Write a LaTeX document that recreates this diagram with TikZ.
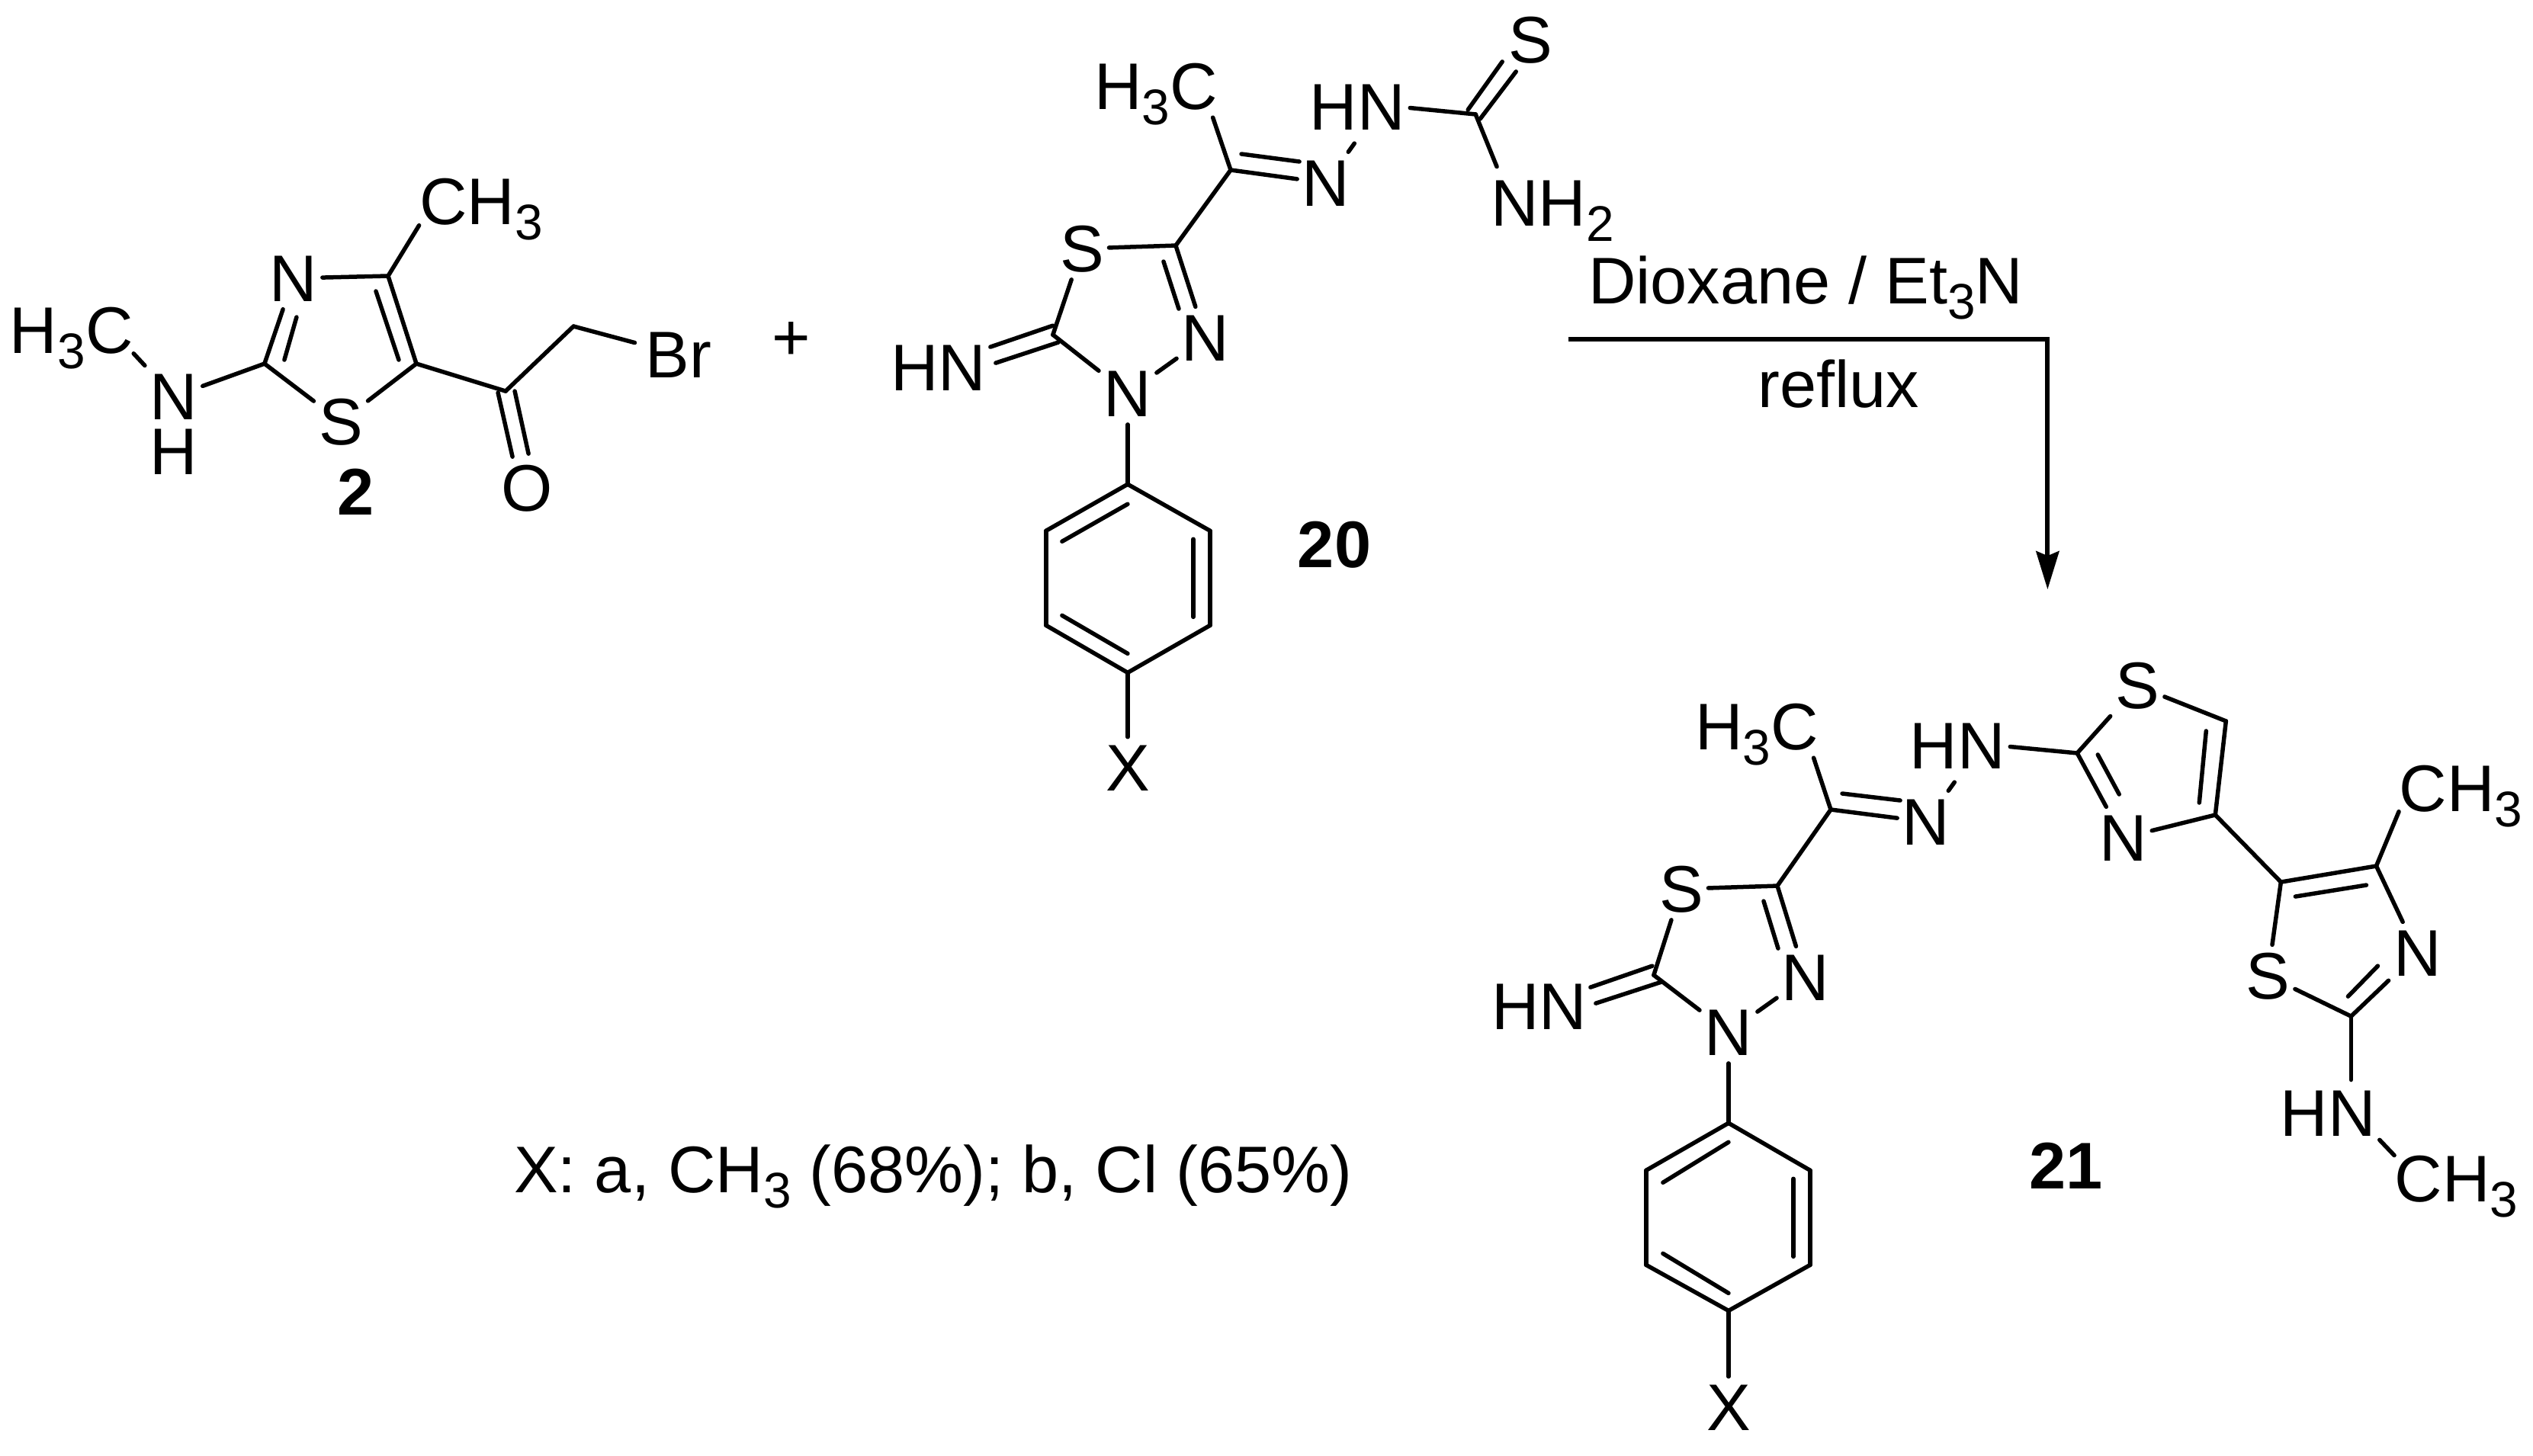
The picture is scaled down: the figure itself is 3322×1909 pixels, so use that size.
\documentclass[tikz,border=0pt]{standalone}
\usepackage{fontspec}
\setmainfont{Liberation Sans}
\usetikzlibrary{arrows.meta,positioning}
\newcommand{\chemsub}[1]{\raisebox{-0.2cm}{\fontsize{18.7}{20}\selectfont #1}}

\begin{document}
\begin{tikzpicture}[x=0.01cm,y=0.01cm,on grid,>={Stealth[length=0.5cm,width=0.3cm,inset=0.06cm]},
  above/.append code={\tikzset{anchor=center}},
  below/.append code={\tikzset{anchor=center}},
  above left/.append code={\tikzset{anchor=center}},
  above right/.append code={\tikzset{anchor=center}},
  below left/.append code={\tikzset{anchor=center}},
  below right/.append code={\tikzset{anchor=center}},
  atom node/.style={inner xsep=0.06cm,inner ysep=0.1cm,text height=0.6cm,text depth=0pt,font=\fontsize{24.6}{28}\selectfont},
  group node/.style={inner sep=0pt,text height=0.6cm,text depth=0pt,font=\fontsize{24.6}{28}\selectfont},
  bond/.style={line width=0.055cm,line cap=round},
  gap/.style={shorten >=#1}]

  \useasboundingbox (0,0) rectangle (3322,-1909);

  \coordinate (aC4) at (509,-362);
  \node[atom node] (aN3) [below left=0.03cm and 1.24cm of aC4] {N};
  \node[group node] (aCH3) [above right=0.97cm and 1.22cm of aC4] {CH\chemsub{3}};
  \coordinate[below right=1.15cm and 0.37cm of aC4] (aC5);
  \coordinate[left=1.99cm of aC5] (aC2);
  \node[atom node] (aS) [below left=0.76cm and 0.99cm of aC5] {S};
  \node[atom node] (aN2) [below left=0.43cm and 1.19cm of aC2] {N};
  \node[group node] (aH) [below=0.72cm of aN2] {H};
  \node[group node] (aH3C) [above left=0.87cm and 1.34cm of aN2] {H\chemsub{3}C};
  \coordinate[below right=0.36cm and 1.17cm of aC5] (aCO);
  \node[atom node] (aO) [below right=1.27cm and 0.28cm of aCO] {O};
  \coordinate[above right=0.85cm and 0.89cm of aCO] (aCH2);
  \node[atom node] (aBr) [below right=0.37cm and 1.38cm of aCH2] {Br};
  \node[group node] (num2) [below right=0.92cm and 0.2cm of aS] {\textbf{2}};
  \node[group node] (plus) [above right=0.23cm and 1.47cm of aBr] {+};

  \coordinate[below left=0.2cm and 0.16cm of aC4] (ad1);
  \coordinate[above left=0.05cm and 0.23cm of aC5] (ad2);
  \coordinate[below right=0.51cm and 0.04cm of aN3] (ad3);
  \coordinate[above right=0.05cm and 0.26cm of aC2] (ad4);
  \coordinate[below left=0.02cm and 0.1cm of aCO] (ad5);
  \coordinate[above left=0.41cm and 0.19cm of aO] (ad6);
  \coordinate[right=0.12cm of aCO] (ad7);
  \coordinate[above right=0.45cm and 0.02cm of aO] (ad8);

  \path[bond]
    (aC4) edge (aN3)
    (aC4) edge (aCH3.south west)
    (aC4) edge (aC5)
    (ad1) edge (ad2)
    (aC2) edge (aN3)
    (ad3) edge (ad4)
    (aC2) edge (aS)
    (aC5) edge (aS)
    (aC2) edge (aN2)
    (aN2) edge (aH3C.south east)
    (aC5) edge (aCO)
    (aCO) edge (aCH2)
    (aCH2) edge[gap=0.08cm] (aBr)
    (ad5) edge (ad6)
    (ad7) edge (ad8);

  \coordinate (bC1) at (1614,-223);
  \node[group node] (bH3C) [above left=1.09cm and 0.98cm of bC1] {H\chemsub{3}C};
  \node[atom node] (bN1) [below right=0.17cm and 1.25cm of bC1] {N};
  \node[group node] (bHN) [above right=0.99cm and 0.41cm of bN1] {HN};
  \coordinate[below right=0.09cm and 1.55cm of bHN] (bC2);
  \node[atom node] (bS1) [above right=0.97cm and 0.72cm of bC2] {S};
  \node[group node] (bNH2) [below right=1.16cm and 1.01cm of bC2] {NH\chemsub{2}};
  \coordinate[below left=0.99cm and 0.72cm of bC1] (bC3);
  \node[atom node] (bS2) [below left=0.04cm and 1.23cm of bC3] {S};
  \node[atom node] (bN2) [below right=1.21cm and 0.39cm of bC3] {N};
  \node[atom node] (bN3) [below left=0.73cm and 1.02cm of bN2] {N};
  \coordinate[above left=0.77cm and 0.98cm of bN3] (bC4);
  \node[group node] (bHN2) [below left=0.43cm and 1.5cm of bC4] {HN};
  \coordinate[below=1.19cm of bN3] (bP1);
  \coordinate[below left=0.61cm and 1.07cm of bP1] (bP2);
  \coordinate[below=1.24cm of bP2] (bP3);
  \coordinate[below right=0.62cm and 1.07cm of bP3] (bP4);
  \coordinate[above right=0.62cm and 1.08cm of bP4] (bP5);
  \coordinate[above=1.24cm of bP5] (bP6);
  \node[atom node] (bX) [below=1.25cm of bP4] {X};
  \node[group node] (num20) [below right=0.18cm and 1.63cm of bP6] {\textbf{20}};

  \coordinate[above right=0.21cm and 0.14cm of bC1] (bd1);
  \coordinate[above left=0.28cm and 0.35cm of bN1] (bd2);
  \coordinate[above left=0.06cm and 0.1cm of bC2] (bd3);
  \coordinate[below left=0.28cm and 0.37cm of bS1] (bd4);
  \coordinate[below right=0.06cm and 0.06cm of bC2] (bd5);
  \coordinate[below left=0.41cm and 0.19cm of bS1] (bd6);
  \coordinate[below left=0.21cm and 0.16cm of bC3] (bd7);
  \coordinate[above left=0.38cm and 0.35cm of bN2] (bd8);
  \coordinate[above=0.12cm of bC4] (bd9);
  \coordinate[above right=0.27cm and 0.68cm of bHN2] (bd10);
  \coordinate[below right=0.1cm and 0.07cm of bC4] (bd11);
  \coordinate[above right=0.06cm and 0.75cm of bHN2] (bd12);
  \coordinate[below right=0.14cm and 0.21cm of bP2] (bd13);
  \coordinate[below=0.26cm of bP1] (bd14);
  \coordinate[below left=0.11cm and 0.22cm of bP6] (bd15);
  \coordinate[above left=0.11cm and 0.22cm of bP5] (bd16);
  \coordinate[above right=0.13cm and 0.21cm of bP3] (bd17);
  \coordinate[above=0.25cm of bP4] (bd18);

  \path[bond]
    (bC1) edge[gap=0.1cm] ([xshift=-0.1cm]bH3C.south east)
    (bC1) edge (bN1)
    (bd1) edge (bd2)
    (bN1) edge[gap=0.58cm] ([xshift=0.3cm]bHN.center)
    (bC2) edge[gap=0.06cm] (bHN.east)
    (bd3) edge (bd4)
    (bd5) edge (bd6)
    (bC2) edge[gap=0.18cm] ([xshift=0.15cm]bNH2.north west)
    (bC1) edge (bC3)
    (bC3) edge (bS2)
    (bC3) edge (bN2)
    (bd7) edge (bd8)
    (bN2) edge (bN3)
    (bN3) edge (bC4)
    (bC4) edge (bS2)
    (bd9) edge (bd10)
    (bd11) edge (bd12)
    (bN3) edge (bP1)
    (bP1) edge (bP2)
    (bP2) edge (bP3)
    (bP3) edge (bP4)
    (bP4) edge (bP5)
    (bP5) edge (bP6)
    (bP6) edge (bP1)
    (bd13) edge (bd14)
    (bd15) edge (bd16)
    (bd17) edge (bd18)
    (bP4) edge (bX);

  \coordinate (arrA) at (2057,-445);
  \coordinate[right=6.28cm of arrA] (arrB);
  \coordinate[below=3.28cm of arrB] (arrC);
  \node[group node] (dioxane) [above right=0.76cm and 3.11cm of arrA] {Dioxane / Et\chemsub{3}N};
  \node[group node] (reflux) [below right=0.59cm and 3.54cm of arrA] {reflux};
  \draw[->,line width=0.06cm] (arrA) -- (arrB) -- (arrC);

  \node[group node] (yields) [below left=7.14cm and 1.48cm of bP3] {X: a, CH\chemsub{3} (68\%); b, Cl (65\%)};

  \coordinate (cC1) at (2401,-1062);
  \node[group node] (cH3C) [above left=1.08cm and 0.97cm of cC1] {H\chemsub{3}C};
  \node[atom node] (cN1) [below right=0.16cm and 1.25cm of cC1] {N};
  \node[group node] (cHN) [above right=0.99cm and 0.41cm of cN1] {HN};
  \coordinate[below right=0.09cm and 1.57cm of cHN] (cC2);
  \node[atom node] (cS1) [above right=0.88cm and 0.79cm of cC2] {S};
  \coordinate[below right=0.46cm and 1.16cm of cS1] (cC3);
  \coordinate[below left=1.23cm and 0.14cm of cC3] (cC4);
  \node[atom node] (cN2) [below left=0.3cm and 1.21cm of cC4] {N};
  \coordinate[below right=0.88cm and 0.86cm of cC4] (cC5);
  \coordinate[above right=0.21cm and 1.25cm of cC5] (cC6);
  \node[group node] (cCH3) [above right=1.02cm and 1.11cm of cC6] {CH\chemsub{3}};
  \node[atom node] (cN3) [below right=1.14cm and 0.54cm of cC6] {N};
  \node[atom node] (cS2) [below left=1.23cm and 0.17cm of cC5] {S};
  \coordinate[below right=0.53cm and 1.09cm of cS2] (cC7);
  \node[group node] (cHN2) [below left=1.27cm and 0.3cm of cC7] {HN};
  \node[group node] (cCH3b) [below right=0.86cm and 1.68cm of cHN2] {CH\chemsub{3}};
  \coordinate[below left=1cm and 0.7cm of cC1] (cC8);
  \node[atom node] (cS3) [below left=0.04cm and 1.26cm of cC8] {S};
  \node[atom node] (cN4) [below right=1.2cm and 0.37cm of cC8] {N};
  \node[atom node] (cN5) [below left=0.72cm and 1.01cm of cN4] {N};
  \coordinate[above left=0.75cm and 0.98cm of cN5] (cC9);
  \node[group node] (cHN3) [below left=0.41cm and 1.5cm of cC9] {HN};
  \coordinate[below=1.19cm of cN5] (cP1);
  \coordinate[below left=0.62cm and 1.08cm of cP1] (cP2);
  \coordinate[below=1.24cm of cP2] (cP3);
  \coordinate[below right=0.6cm and 1.08cm of cP3] (cP4);
  \coordinate[above right=0.6cm and 1.07cm of cP4] (cP5);
  \coordinate[above=1.24cm of cP5] (cP6);
  \node[atom node] (cX) [below=1.27cm of cP4] {X};
  \node[group node] (num21) [above right=0.06cm and 3.35cm of cP6] {\textbf{21}};

  \coordinate[above right=0.21cm and 0.15cm of cC1] (cd1);
  \coordinate[above left=0.28cm and 0.34cm of cN1] (cd2);
  \coordinate[below right=0.02cm and 0.27cm of cC2] (cd3);
  \coordinate[above left=0.57cm and 0.05cm of cN2] (cd4);
  \coordinate[below left=0.13cm and 0.26cm of cC3] (cd5);
  \coordinate[above left=0.16cm and 0.21cm of cC4] (cd6);
  \coordinate[below right=0.19cm and 0.19cm of cC5] (cd7);
  \coordinate[below left=0.25cm and 0.13cm of cC6] (cd8);
  \coordinate[above left=0.26cm and 0.04cm of cC7] (cd9);
  \coordinate[below left=0.17cm and 0.52cm of cN3] (cd10);
  \coordinate[below left=0.2cm and 0.18cm of cC8] (cd11);
  \coordinate[above left=0.38cm and 0.36cm of cN4] (cd12);
  \coordinate[above left=0.12cm and 0.02cm of cC9] (cd13);
  \coordinate[above right=0.25cm and 0.67cm of cHN3] (cd14);
  \coordinate[below right=0.09cm and 0.1cm of cC9] (cd15);
  \coordinate[above right=0.04cm and 0.74cm of cHN3] (cd16);
  \coordinate[below right=0.16cm and 0.22cm of cP2] (cd17);
  \coordinate[below=0.25cm of cP1] (cd18);
  \coordinate[below left=0.11cm and 0.22cm of cP6] (cd19);
  \coordinate[above left=0.11cm and 0.22cm of cP5] (cd20);
  \coordinate[above right=0.15cm and 0.22cm of cP3] (cd21);
  \coordinate[above=0.23cm of cP4] (cd22);

  \path[bond]
    (cC1) edge[gap=0.1cm] ([xshift=-0.1cm]cH3C.south east)
    (cC1) edge (cN1)
    (cd1) edge (cd2)
    (cN1) edge[gap=0.58cm] ([xshift=0.3cm]cHN.center)
    (cC2) edge[gap=0.06cm] (cHN.east)
    (cC2) edge (cS1)
    (cS1) edge (cC3)
    (cC3) edge (cC4)
    (cd5) edge (cd6)
    (cC4) edge (cN2)
    (cC2) edge (cN2)
    (cd3) edge (cd4)
    (cC4) edge (cC5)
    (cC5) edge (cC6)
    (cd7) edge (cd8)
    (cC6) edge (cCH3.south west)
    (cC6) edge (cN3)
    (cC5) edge (cS2)
    (cS2) edge (cC7)
    (cC7) edge (cN3)
    (cd9) edge (cd10)
    (cC7) edge[gap=0.13cm] ([xshift=0.3cm]cHN2.north)
    (cCH3b.north west) edge[gap=0.06cm] (cHN2.south east)
    (cC1) edge (cC8)
    (cC8) edge (cS3)
    (cC8) edge (cN4)
    (cd11) edge (cd12)
    (cN4) edge (cN5)
    (cN5) edge (cC9)
    (cC9) edge (cS3)
    (cd13) edge (cd14)
    (cd15) edge (cd16)
    (cN5) edge (cP1)
    (cP1) edge (cP2)
    (cP2) edge (cP3)
    (cP3) edge (cP4)
    (cP4) edge (cP5)
    (cP5) edge (cP6)
    (cP6) edge (cP1)
    (cd17) edge (cd18)
    (cd19) edge (cd20)
    (cd21) edge (cd22)
    (cP4) edge (cX);

\end{tikzpicture}
\end{document}
